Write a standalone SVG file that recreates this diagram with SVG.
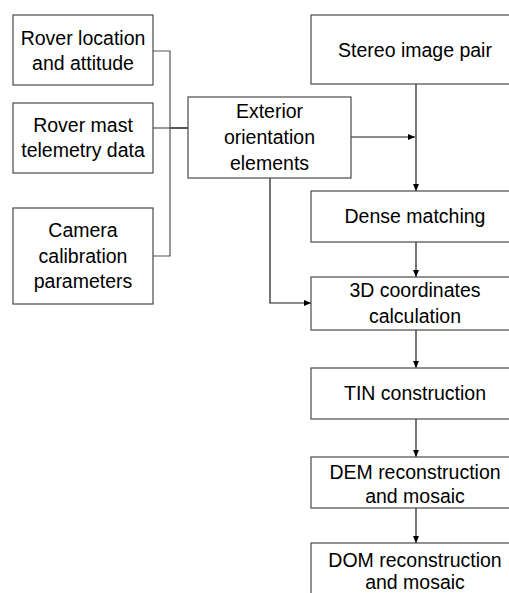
<svg xmlns="http://www.w3.org/2000/svg" width="509" height="593" viewBox="0 0 509 593">
<defs>
<marker id="arr" markerWidth="8" markerHeight="8" refX="7" refY="4" orient="auto" markerUnits="userSpaceOnUse">
<path d="M0,1 L7,4 L0,7 Z" fill="#000"/>
</marker>
<style>
.box{fill:#fff;stroke:#4a4a4a;stroke-width:1.2}
.t{font-family:"Liberation Sans",Arial,sans-serif;font-size:19.5px;fill:#000;text-anchor:middle}
.c{fill:none;stroke:#1a1a1a;stroke-width:1.2}
.b{fill:none;stroke:#555;stroke-width:1.2}
</style>
</defs>
<rect width="509" height="593" fill="#fff"/>
<g id="connectors">
<polyline class="b" points="153,51 170,51 170,256 153,256"/>
<line class="b" x1="153" y1="128" x2="170" y2="128"/>
<line class="b" x1="170" y1="128" x2="188" y2="128" style="stroke-width:2"/>
<line class="c" x1="416" y1="84" x2="416" y2="191" marker-end="url(#arr)"/>
<line class="c" x1="351" y1="137" x2="415" y2="137" marker-end="url(#arr)"/>
<polyline class="c" points="270,178 270,303 311,303" marker-end="url(#arr)"/>
<line class="c" x1="416" y1="242" x2="416" y2="277" marker-end="url(#arr)"/>
<line class="c" x1="416" y1="330" x2="416" y2="368" marker-end="url(#arr)"/>
<line class="c" x1="416" y1="419" x2="416" y2="457" marker-end="url(#arr)"/>
<line class="c" x1="416" y1="508" x2="416" y2="543" marker-end="url(#arr)"/>
</g>
<g id="rover-location">
<rect class="box" x="13" y="15" width="140" height="70"/>
<text class="t" x="83" y="45">Rover location</text>
<text class="t" x="83" y="70">and attitude</text>
</g>
<g id="rover-mast">
<rect class="box" x="13" y="103" width="140" height="70"/>
<text class="t" x="83" y="132">Rover mast</text>
<text class="t" x="83" y="157">telemetry data</text>
</g>
<g id="camera-calibration">
<rect class="box" x="13" y="208" width="140" height="96"/>
<text class="t" x="83" y="237">Camera</text>
<text class="t" x="83" y="263">calibration</text>
<text class="t" x="83" y="288">parameters</text>
</g>
<g id="exterior">
<rect class="box" x="188" y="97" width="163" height="81"/>
<text class="t" x="269.5" y="118">Exterior</text>
<text class="t" x="269.5" y="144">orientation</text>
<text class="t" x="269.5" y="170">elements</text>
</g>
<g id="stereo">
<rect class="box" x="311" y="15" width="210" height="69"/>
<text class="t" x="415" y="57">Stereo image pair</text>
</g>
<g id="dense">
<rect class="box" x="311" y="191" width="210" height="51"/>
<text class="t" x="415" y="223">Dense matching</text>
</g>
<g id="coords3d">
<rect class="box" x="311" y="277" width="210" height="53"/>
<text class="t" x="415" y="297">3D coordinates</text>
<text class="t" x="415" y="323">calculation</text>
</g>
<g id="tin">
<rect class="box" x="311" y="368" width="210" height="51"/>
<text class="t" x="415" y="400">TIN construction</text>
</g>
<g id="dem">
<rect class="box" x="311" y="457" width="210" height="51"/>
<text class="t" x="415" y="479">DEM reconstruction</text>
<text class="t" x="415" y="503">and mosaic</text>
</g>
<g id="dom">
<rect class="box" x="311" y="543" width="210" height="70"/>
<text class="t" x="415" y="567">DOM reconstruction</text>
<text class="t" x="415" y="589">and mosaic</text>
</g>
</svg>
